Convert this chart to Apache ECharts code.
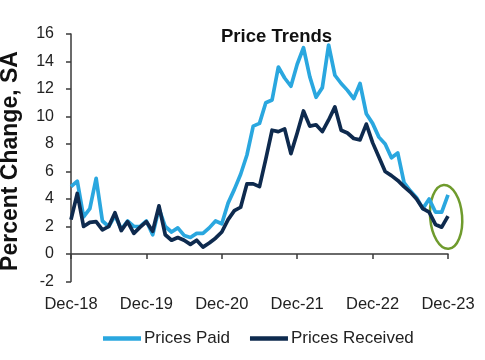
<!DOCTYPE html>
<html><head><meta charset="utf-8">
<script src="https://cdn.jsdelivr.net/npm/echarts@6/dist/echarts.min.js"></script>
<style>html,body{margin:0;padding:0;background:#fff}#c{width:485px;height:360px}</style>
</head><body><div id="c"></div>
<script>
const monthNames = ['Jan','Feb','Mar','Apr','May','Jun','Jul','Aug','Sep','Oct','Nov','Dec'];
const startYear = 18, startMonth = 11, monthCount = 61;
const categories = [];
for (let k = 0; k < monthCount; k++) {
  const m = (startMonth + k) % 12, y = startYear + Math.floor((startMonth + k) / 12);
  categories.push(monthNames[m] + '-' + y);
}
const pricesPaid = [4.9,5.3,2.7,3.3,5.5,2.4,2.0,2.8,1.8,2.4,2.0,2.0,2.4,1.4,3.3,2.0,1.6,1.9,1.35,1.2,1.5,1.5,1.9,2.4,2.2,3.7,4.7,5.8,7.2,9.3,9.5,11.0,11.2,13.6,12.8,12.2,13.8,15.0,12.9,11.4,12.1,15.2,13.0,12.4,11.9,11.3,12.4,10.2,9.5,8.5,8.0,7.0,7.35,5.2,4.6,4.1,3.3,4.0,3.05,3.05,4.3];
const pricesReceived = [2.5,4.4,2.0,2.3,2.35,1.75,2.0,3.0,1.7,2.35,1.5,1.95,2.35,1.65,3.5,1.4,1.0,1.2,1.0,0.7,1.0,0.5,0.8,1.15,1.6,2.5,3.15,3.4,5.1,5.1,4.9,6.9,9.0,8.9,9.1,7.3,8.8,10.4,9.3,9.4,8.9,9.75,10.7,9.0,8.8,8.4,8.3,9.45,8.1,7.05,6.0,5.7,5.35,4.9,4.5,4.0,3.3,3.05,2.15,1.95,2.75];
const yMin = -2, yMax = 16, yInterval = 2;
const seriesNames = ['Prices Paid', 'Prices Received'];
const colors = ['#2aa7df', '#0e2a4e'];
const axisColor = '#3a3a3a';
const FONT = 'Liberation Sans, Arial, sans-serif';
const isDec = (idx) => idx % 12 === 0;

const chart = echarts.init(document.getElementById('c'), null, {renderer: 'canvas'});
chart.setOption({
  animation: false,
  backgroundColor: '#fff',
  grid: {left: 71, right: 37, top: 34, bottom: 78.5, containLabel: false},
  legend: {
    bottom: 8, left: 98,
    itemWidth: 38, itemHeight: 4.5, itemGap: 20, icon: 'rect',
    textStyle: {fontFamily: FONT, fontSize: 17, color: '#222', padding: [0, 0, 0, -2]},
    data: seriesNames
  },
  xAxis: [{
    type: 'category', data: categories, boundaryGap: false, position: 'bottom',
    axisLine: {show: false, onZero: false}, axisTick: {show: false},
    axisLabel: {interval: (i) => isDec(i), margin: 14, fontFamily: FONT, fontSize: 16.5, color: '#222'},
    splitLine: {show: false}
  }, {
    type: 'category', data: categories, boundaryGap: false, position: 'top',
    axisLine: {show: true, onZero: true, lineStyle: {color: axisColor, width: 1.5}},
    axisTick: {show: true, inside: true, length: 5, interval: (i) => isDec(i), lineStyle: {color: axisColor, width: 1.5}},
    axisLabel: {show: false}, splitLine: {show: false}
  }],
  yAxis: {
    type: 'value', min: yMin, max: yMax, interval: yInterval,
    axisLine: {show: true, lineStyle: {color: axisColor, width: 1.5}},
    axisTick: {show: true, length: 5, lineStyle: {color: axisColor, width: 1.5}},
    axisLabel: {margin: 17, fontFamily: FONT, fontSize: 16, color: '#222'},
    splitLine: {show: false}
  },
  series: [{
    name: seriesNames[0], type: 'line', data: pricesPaid, symbol: 'none', xAxisIndex: 0,
    lineStyle: {color: colors[0], width: 3.7, join: 'round'}, itemStyle: {color: colors[0]}
  }, {
    name: seriesNames[1], type: 'line', data: pricesReceived, symbol: 'none', xAxisIndex: 0,
    lineStyle: {color: colors[1], width: 3.7, join: 'round'}, itemStyle: {color: colors[1]}
  }]
});

const p0 = chart.convertToPixel({xAxisIndex: 0, yAxisIndex: 0}, [59, 2.7]);
const p1 = chart.convertToPixel({xAxisIndex: 0, yAxisIndex: 0}, [60, 2.7]);
const cx = p0[0] + 0.7 * (p1[0] - p0[0]);
chart.setOption({
  graphic: [{
    type: 'text', left: 278 - 57, top: 27,
    style: {text: 'Price Trends', font: 'bold 18.5px ' + FONT, fill: '#111'}
  }, {
    type: 'text', x: 11, y: 161, rotation: Math.PI / 2,
    style: {text: 'Percent Change, SA', font: 'bold 23px ' + FONT, fill: '#111', align: 'center', verticalAlign: 'middle'}
  }, {
    type: 'ellipse', x: cx, y: p0[1], rotation: 0.08,
    shape: {cx: 0, cy: 0, rx: 16, ry: 32},
    style: {fill: 'none', stroke: '#6f9b2d', lineWidth: 2.5}
  }]
});
</script>
</body></html>
